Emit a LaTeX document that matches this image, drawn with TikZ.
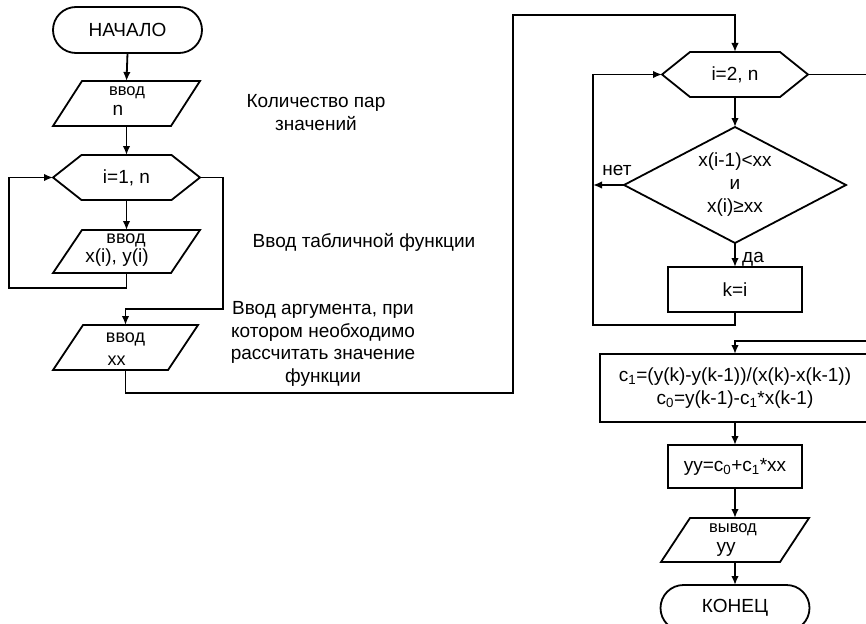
\documentclass[tikz,border=0pt]{standalone}
\usepackage{fontspec}
\setmainfont{Liberation Sans}
\usetikzlibrary{arrows.meta}
\newcommand\fbig{\fontsize{19}{23}\selectfont}
\newcommand\fmid{\fontsize{18}{21}\selectfont}
\newcommand\fsmall{\fontsize{16.5}{19}\selectfont}
\newcommand\hexout[2]{\draw[lw] (#1.west) -- ([xshift=#2]#1.north west) -- ([xshift=-#2]#1.north east) -- (#1.east) -- ([xshift=-#2]#1.south east) -- ([xshift=#2]#1.south west) -- cycle;}
\newcommand\parout[2]{\draw[lw] ([xshift=#2]#1.north west) -- (#1.north east) -- ([xshift=-#2]#1.south east) -- (#1.south west) -- cycle;}
\begin{document}
\begin{tikzpicture}[x=1pt,y=-1pt,
  lw/.style={line width=1.8pt},
  arr/.style={lw,-{Latex[length=9pt,width=7.5pt]}},
  shp/.style={inner sep=0pt,outer sep=0pt,align=center,font=\fbig},
  term/.style={shp,draw,lw,rounded corners=23pt,minimum width=149pt,minimum height=46pt},
  proc/.style={shp,draw,lw},
  txt/.style={inner sep=0pt,outer sep=0pt,align=center,font=\fbig},
  stxt/.style={inner sep=0pt,outer sep=0pt,align=center,font=\fsmall},
  mtxt/.style={inner sep=0pt,outer sep=0pt,align=center,font=\fmid}
]
\useasboundingbox (0,0) rectangle (866,623);
\clip (0,0) rectangle (866,623);

% left column
\node[term] (start) at (127.5,30) {НАЧАЛО};
\node[shp,minimum width=147pt,minimum height=45pt] (p1) at (126.5,103.5) {};
\parout{p1}{29pt}
\node[stxt] (p1a) at (127,93) {ввод};
\node[txt] (p1b) at (118,110) {n};

\node[shp,minimum width=147pt,minimum height=45pt] (h1) at (126.5,177.5) {i=1, n};
\hexout{h1}{28.5pt}

\node[shp,minimum width=147pt,minimum height=43pt] (p2) at (126.5,251.5) {};
\parout{p2}{29pt}
\node[mtxt] (p2a) at (126,240) {ввод};
\node[txt] (p2b) at (117,258) {x(i), y(i)};

\node[shp,minimum width=145pt,minimum height=45pt] (p3) at (125.5,347.5) {};
\parout{p3}{30pt}
\node[mtxt] (p3a) at (125.5,339) {ввод};
\node[mtxt] (p3b) at (116.5,361) {xx};

% annotations
\node[txt] (n1) at (316,113) {Количество пар\\значений};
\node[txt] (n2) at (364,242) {Ввод табличной функции};
\node[txt,font={\fontsize{19}{22.7}\selectfont}] (n3) at (323,344) {Ввод аргумента, при\\котором необходимо\\рассчитать значение\\функции};

% right column
\node[shp,minimum width=146pt,minimum height=45pt] (h2) at (735,74.5) {i=2, n};
\hexout{h2}{28pt}

\node[shp,minimum width=222pt,minimum height=116pt] (d) at (735,185) {x(i-1)<xx\\и\\x(i)≥xx};
\draw[lw] (d.north) -- (d.east) -- (d.south) -- (d.west) -- cycle;

\node[proc,minimum width=134pt,minimum height=45pt] (k) at (735,289.5) {k=i};

\node[proc,minimum width=270pt,minimum height=68pt] (cb) at (735,388)
  {c\textsubscript{1}=(y(k)-y(k-1))/(x(k)-x(k-1))\\c\textsubscript{0}=y(k-1)-c\textsubscript{1}*x(k-1)};

\node[proc,minimum width=134pt,minimum height=43pt] (yy) at (735,466.5) {yy=c\textsubscript{0}+c\textsubscript{1}*xx};

\node[shp,minimum width=148pt,minimum height=44pt] (out) at (735,540) {};
\parout{out}{29pt}
\node[stxt] (outa) at (733,530) {вывод};
\node[txt] (outb) at (726,549) {yy};

\node[term] (end) at (735,608) {КОНЕЦ};

\node[txt] (no) at (617,170) {нет};
\node[txt] (yes) at (753,259) {да};

% coordinates
\coordinate (c1) at (9,288);
\coordinate (c2) at (223,309);
\coordinate (c3) at (513,393);
\coordinate (c4) at (513,15);
\coordinate (c6) at (593,325);
\coordinate (c7) at (885,341);

% connectors
\draw[arr] (start.south) -- (p1.north);
\draw[arr] (p1.south) -- (h1.north);
\draw[arr] (h1.south) -- (p2.north);
\draw[arr] (p2.south) |- (c1) |- (h1.west);
\draw[arr] (h1.east) -| (c2) -| (p3.north);
\draw[arr] (p3.south) |- (c3) -- (c4) -| (h2.north);
\draw[arr] (h2.south) -- (d.north);
\draw[arr] (d.south) -- (k.north);
\draw[arr] (d.west) -- (d.west -| c6);
\draw[arr] (k.south) |- (c6) |- (h2.west);
\draw[arr] (h2.east) -| (c7) -| (cb.north);
\draw[arr] (cb.south) -- (yy.north);
\draw[arr] (yy.south) -- (out.north);
\draw[arr] (out.south) -- (end.north);
\end{tikzpicture}
\end{document}
